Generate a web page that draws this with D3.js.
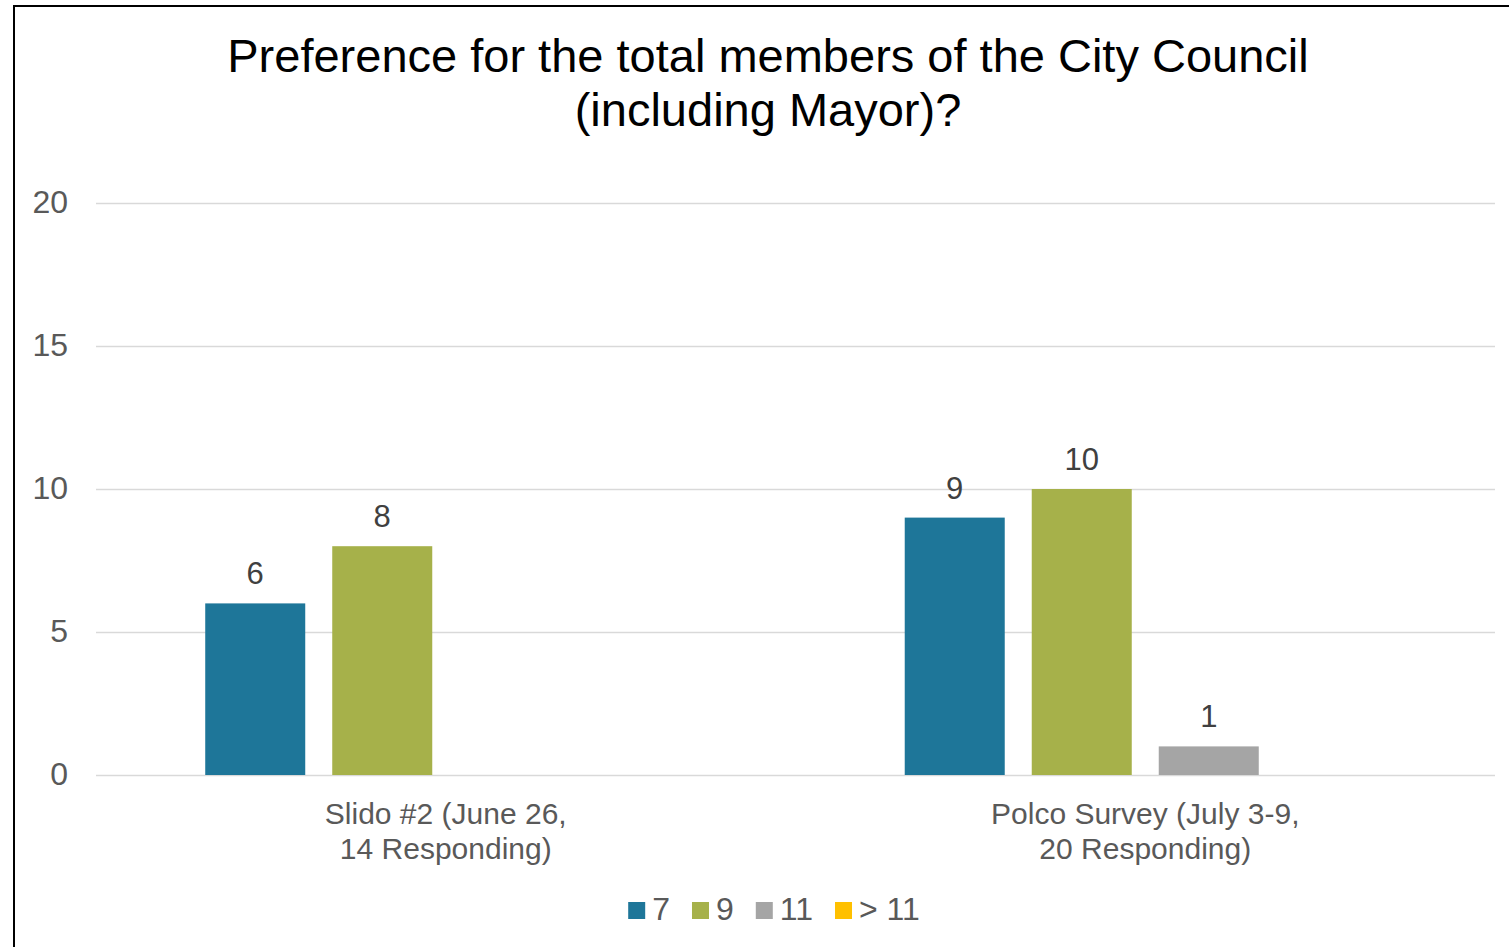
<!DOCTYPE html>
<html>
<head>
<meta charset="utf-8">
<script src="https://cdn.jsdelivr.net/npm/d3@7"></script>
<style>
  html, body { margin: 0; padding: 0; background: #fff; overflow: hidden; }
  svg { display: block; font-family: "Liberation Sans", Arial, sans-serif; }
</style>
</head>
<body>
<svg id="chart" width="1509" height="947"></svg>
<script>
const titleLines = ["Preference for the total members of the City Council", "(including Mayor)?"];
const categories = ["Slido #2 (June 26, 14 Responding)", "Polco Survey (July 3-9, 20 Responding)"];
const categoryLines = [["Slido #2 (June 26,", "14 Responding)"], ["Polco Survey (July 3-9,", "20 Responding)"]];
const seriesNames = ["7", "9", "11", "> 11"];
const seriesColors = ["#1E7699", "#A6B14A", "#A5A5A5", "#FFC000"];
const values7 = [6, 9];
const values9 = [8, 10];
const values11 = [null, 1];
const valuesOver11 = [null, null];
const yTicks = [0, 5, 10, 15, 20];

const seriesValues = [values7, values9, values11, valuesOver11];

const svg = d3.select("#chart");
const plot = { left: 96, right: 1495, top: 203, bottom: 775 };

// Frame border
svg.append("rect")
  .attr("x", 14).attr("y", 6)
  .attr("width", 1600).attr("height", 1100)
  .attr("fill", "#fff").attr("stroke", "#000").attr("stroke-width", 2);

// Title
const title = svg.append("text")
  .attr("text-anchor", "middle")
  .attr("font-size", 47)
  .attr("fill", "#000");
titleLines.forEach((t, i) => {
  title.append("tspan").attr("x", 768).attr("y", 72 + i * 54).text(t);
});

const y = d3.scaleLinear().domain([0, 20]).range([plot.bottom, plot.top]);
const x0 = d3.scaleBand().domain(categories).range([plot.left, plot.right]).padding(0);
const x1 = d3.scaleBand().domain(seriesNames).range([0, x0.bandwidth()])
  .paddingInner(27 / 127).paddingOuter(0.86);

// Y axis with gridlines
const yAxis = svg.append("g")
  .attr("transform", `translate(${plot.left},0)`)
  .call(d3.axisLeft(y).tickValues(yTicks).tickSize(-(plot.right - plot.left)).tickPadding(28));
yAxis.select(".domain").remove();
yAxis.selectAll(".tick line").attr("stroke", "#D9D9D9").attr("stroke-width", 1.6);
yAxis.selectAll(".tick text")
  .attr("font-size", 32).attr("fill", "#595959")
  .attr("font-family", "'Liberation Sans', Arial, sans-serif")
  .attr("dy", "0.31em");

// Bars
const rows = [];
categories.forEach((c, ci) => {
  seriesNames.forEach((s, si) => {
    const v = seriesValues[si][ci];
    if (v !== null && v !== undefined) rows.push({ c, s, v, color: seriesColors[si] });
  });
});

const g = svg.append("g");
g.selectAll("rect.bar").data(rows).join("rect")
  .attr("class", "bar")
  .attr("x", d => x0(d.c) + x1(d.s))
  .attr("y", d => y(d.v))
  .attr("width", x1.bandwidth())
  .attr("height", d => y(0) - y(d.v))
  .attr("fill", d => d.color);

g.selectAll("text.lbl").data(rows).join("text")
  .attr("class", "lbl")
  .attr("x", d => x0(d.c) + x1(d.s) + x1.bandwidth() / 2)
  .attr("y", d => y(d.v) - 19)
  .attr("text-anchor", "middle")
  .attr("font-size", 31)
  .attr("fill", "#404040")
  .text(d => d.v);

// X axis (category labels)
const xAxis = svg.append("g")
  .attr("transform", `translate(0,${plot.bottom})`)
  .call(d3.axisBottom(x0).tickSize(0).tickPadding(0));
xAxis.select(".domain").remove();
xAxis.selectAll(".tick text").each(function (d, i) {
  const t = d3.select(this);
  t.text(null).attr("y", 0).attr("dy", null)
    .attr("font-size", 30).attr("fill", "#595959")
    .attr("font-family", "'Liberation Sans', Arial, sans-serif");
  categoryLines[i].forEach((line, li) => {
    t.append("tspan").attr("x", 0).attr("y", 49 + li * 35).text(line);
  });
});

// Legend
const legend = svg.append("g");
const items = legend.selectAll("g").data(seriesNames).join("g");
items.append("rect")
  .attr("width", 17).attr("height", 17).attr("y", -18)
  .attr("fill", (d, i) => seriesColors[i]);
items.append("text")
  .attr("x", 24).attr("y", 0)
  .attr("font-size", 32).attr("fill", "#595959")
  .text(d => d);
let cx = 0;
items.each(function () {
  const w = d3.select(this).select("text").node().getComputedTextLength();
  d3.select(this).attr("transform", `translate(${cx},0)`);
  cx += 24 + w + 22;
});
const legendWidth = cx - 22;
legend.attr("transform", `translate(${774 - legendWidth / 2},920)`);
</script>
</body>
</html>
